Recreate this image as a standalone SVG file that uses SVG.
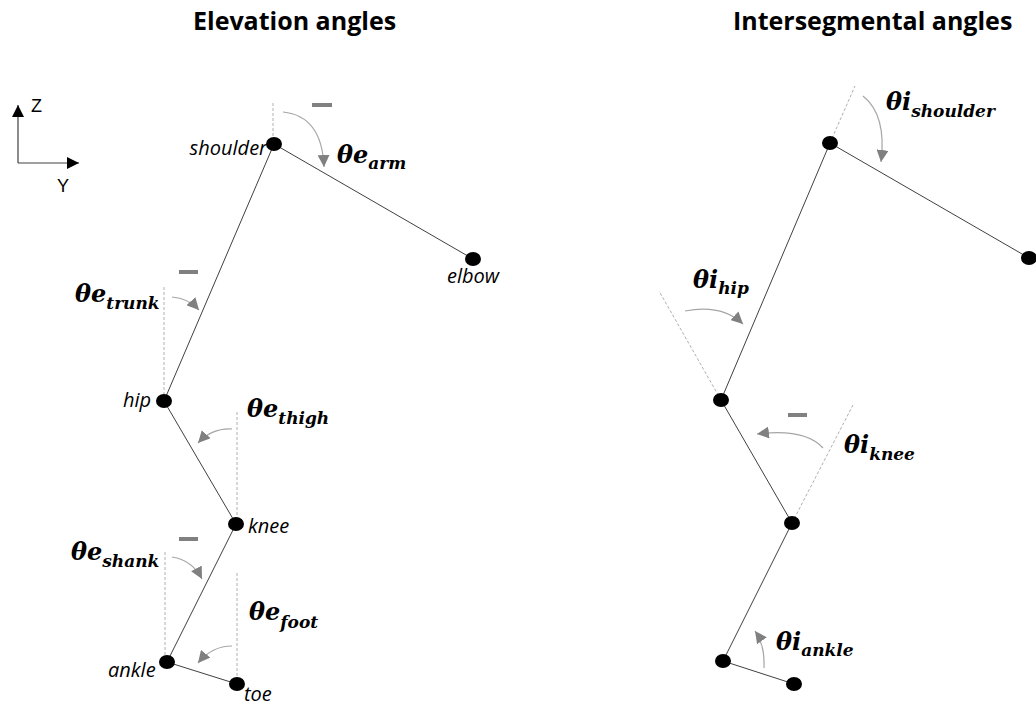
<svg xmlns="http://www.w3.org/2000/svg" width="1036" height="706" viewBox="0 0 1036 706">
<defs>
<style>
.title{font-family:"Open Sans","Liberation Sans",sans-serif;font-weight:bold;font-size:25px;fill:#000}
.joint{font-family:"Open Sans","Liberation Sans",sans-serif;font-style:italic;font-size:20px;fill:#000}
.math{font-family:"DejaVu Serif","Liberation Serif",serif;font-style:italic;font-weight:bold;font-size:24px;fill:#000}
.sub{font-size:17px}
.axis{font-family:"Liberation Sans",sans-serif;font-size:18px;fill:#000}
.seg{stroke:#404040;stroke-width:1;fill:none}
.ref{stroke:#b0b0b0;stroke-width:1;stroke-dasharray:3,2;fill:none}
.rot{stroke:#a6a6a6;stroke-width:1.2;fill:none;marker-end:url(#ah)}
.dot{fill:#000}
.minus{fill:#808080}
</style>
<marker id="ah" viewBox="0 0 10 10" refX="10" refY="5" markerWidth="12" markerHeight="12" markerUnits="userSpaceOnUse" orient="auto">
<path d="M0,0 L10,5 L0,10 z" fill="#808080"/>
</marker>
<marker id="ax" viewBox="0 0 10 10" refX="10" refY="5" markerWidth="12" markerHeight="12" markerUnits="userSpaceOnUse" orient="auto">
<path d="M0,0 L10,5 L0,10 z" fill="#000"/>
</marker>
</defs>
<rect width="1036" height="706" fill="#fff"/>

<g id="titles">
<text class="title" x="193" y="30">Elevation angles</text>
<text class="title" x="733" y="30">Intersegmental angles</text>
</g>

<g id="axes">
<path d="M18,163 L18,105" stroke="#404040" stroke-width="1.2" fill="none" marker-end="url(#ax)"/>
<path d="M18,163 L79,163" stroke="#404040" stroke-width="1.2" fill="none" marker-end="url(#ax)"/>
<text class="axis" x="31" y="112">Z</text>
<text class="axis" x="57" y="192">Y</text>
</g>

<g id="connectors">
<line class="seg" x1="274" y1="144" x2="473" y2="259"/>
<line class="seg" x1="274" y1="144" x2="164" y2="401"/>
<line class="seg" x1="164" y1="401" x2="236" y2="524"/>
<line class="seg" x1="236" y1="524" x2="167" y2="662"/>
<line class="seg" x1="167" y1="662" x2="237" y2="684"/>
<line class="ref" x1="273" y1="103" x2="273" y2="144"/>
<line class="ref" x1="164" y1="287" x2="164" y2="401"/>
<line class="ref" x1="237" y1="412" x2="237" y2="524"/>
<line class="ref" x1="165" y1="552" x2="165" y2="662"/>
<line class="ref" x1="237" y1="573" x2="237" y2="684"/>
<line class="seg" x1="830" y1="143" x2="1029" y2="258"/>
<line class="seg" x1="830" y1="143" x2="721" y2="400"/>
<line class="seg" x1="721" y1="400" x2="792" y2="523"/>
<line class="seg" x1="792" y1="523" x2="723" y2="661"/>
<line class="seg" x1="723" y1="661" x2="794" y2="684"/>
<line class="ref" x1="830" y1="143" x2="855" y2="86"/>
<line class="ref" x1="721" y1="400" x2="659" y2="291"/>
<line class="ref" x1="792" y1="523" x2="853" y2="405"/>
<path class="rot" d="M283,112 Q322,116 324,167"/>
<path class="rot" d="M172,297 Q188,298 199,310"/>
<path class="rot" d="M232,429 Q212,428 198,443"/>
<path class="rot" d="M172,557 Q192,560 202,579"/>
<path class="rot" d="M232,646 Q212,646 198,663"/>
<path class="rot" d="M863,96 C878,108 885,130 881,162"/>
<path class="rot" d="M685,311 Q722,304 743,324"/>
<path class="rot" d="M823,448 Q805,428 757,434"/>
<path class="rot" d="M764,668 Q765,645 755,631"/>
<rect class="minus" x="312" y="103" width="20" height="4"/>
<rect class="minus" x="179" y="270" width="19" height="4"/>
<rect class="minus" x="179" y="537" width="19" height="4"/>
<rect class="minus" x="788" y="413" width="19" height="4"/>
</g>

<g id="shoulder-e"><ellipse class="dot" cx="274" cy="144" rx="8" ry="7"/><text class="joint" x="267" y="155" text-anchor="end">shoulder</text></g>
<g id="elbow-e"><ellipse class="dot" cx="473" cy="259" rx="8" ry="7"/><text class="joint" x="447" y="283">elbow</text></g>
<g id="hip-e"><ellipse class="dot" cx="164" cy="401" rx="8" ry="7"/><text class="joint" x="123" y="407">hip</text></g>
<g id="knee-e"><ellipse class="dot" cx="236" cy="524" rx="8" ry="7"/><text class="joint" x="248" y="533">knee</text></g>
<g id="ankle-e"><ellipse class="dot" cx="167" cy="662" rx="8" ry="7"/><text class="joint" x="108" y="677">ankle</text></g>
<g id="toe-e"><ellipse class="dot" cx="237" cy="684" rx="8" ry="7"/><text class="joint" x="244" y="701">toe</text></g>

<g id="shoulder-i"><ellipse class="dot" cx="830" cy="143" rx="8" ry="7"/></g>
<g id="elbow-i"><ellipse class="dot" cx="1029" cy="258" rx="8" ry="7"/></g>
<g id="hip-i"><ellipse class="dot" cx="721" cy="400" rx="8" ry="7"/></g>
<g id="knee-i"><ellipse class="dot" cx="792" cy="523" rx="8" ry="7"/></g>
<g id="ankle-i"><ellipse class="dot" cx="723" cy="661" rx="8" ry="7"/></g>
<g id="toe-i"><ellipse class="dot" cx="794" cy="684" rx="8" ry="7"/></g>

<g id="labels">
<text class="math" x="337" y="163">θe<tspan class="sub" dy="6" font-size="18">arm</tspan></text>
<text class="math" x="75" y="302">θe<tspan class="sub" dy="7">trunk</tspan></text>
<text class="math" x="247" y="417">θe<tspan class="sub" dy="7">thigh</tspan></text>
<text class="math" x="71" y="560">θe<tspan class="sub" dy="7">shank</tspan></text>
<text class="math" x="249" y="620">θe<tspan class="sub" dy="8">foot</tspan></text>
<text class="math" x="886" y="110">θi<tspan class="sub" dy="7">shoulder</tspan></text>
<text class="math" x="693" y="288">θi<tspan class="sub" dy="6">hip</tspan></text>
<text class="math" x="844" y="453">θi<tspan class="sub" dy="7">knee</tspan></text>
<text class="math" x="776" y="650">θi<tspan class="sub" dy="6">ankle</tspan></text>
</g>
</svg>
